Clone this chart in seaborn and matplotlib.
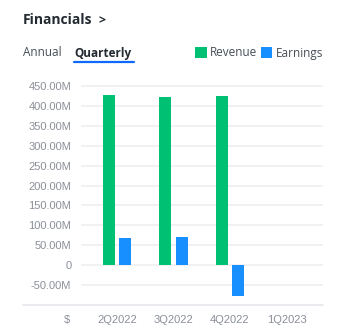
import numpy as np
import pandas as pd
import matplotlib
matplotlib.use("Agg")
import matplotlib.pyplot as plt
from matplotlib.lines import Line2D
from matplotlib.patches import Patch
import seaborn as sns

quarters = ["2Q2022", "3Q2022", "4Q2022", "1Q2023"]
revenue = [427.0, 423.0, 425.0, np.nan]      # millions
earnings = [68.6, 69.6, -78.0, np.nan]       # millions
series_names = ["Revenue", "Earnings"]
ytick_values = [-50, 0, 50, 100, 150, 200, 250, 300, 350, 400, 450]

GREEN = "#00c073"
BLUE = "#188fff"
GRID = "#f0f0f3"
TICK = "#8a8f98"
DARK = "#232a31"

df = pd.DataFrame({
    "quarter": quarters * 2,
    "value": revenue + earnings,
    "series": [series_names[0]] * 4 + [series_names[1]] * 4,
})

sns.set_theme(style="white")
plt.rcParams["font.family"] = ["Liberation Sans", "DejaVu Sans"]

fig = plt.figure(figsize=(3.41, 3.36), dpi=100)
ax = fig.add_axes([81 / 341, (336 - 305) / 336, 242 / 341, 220.9 / 336])

sns.barplot(data=df, x="quarter", y="value", hue="series", order=quarters,
            hue_order=series_names, palette=[GREEN, BLUE], width=0.6,
            gap=0.294, errorbar=None, ax=ax, legend=False, linewidth=0,
            saturation=1)

ax.set_ylim(-100, 455)
ax.set_xlim(-0.637, 3.646)
ax.set_yticks(ytick_values)
ax.set_yticklabels(["0" if v == 0 else f"{v:.2f}M" for v in ytick_values])
for v in ytick_values:
    ax.axhline(v, color=GRID, lw=1.3, zorder=0)
ax.plot([-0.24, 1], [-100, -100], transform=ax.get_yaxis_transform(),
        color="#e8e9ee", lw=1.3, clip_on=False, zorder=0)
for s in ax.spines.values():
    s.set_visible(False)
ax.set_xlabel("")
ax.set_ylabel("")
ax.tick_params(axis="y", length=0, pad=7, labelsize=8, labelcolor=TICK)
ax.tick_params(axis="x", length=0, pad=7, labelsize=8, labelcolor=TICK)

fig.text(67 / 341, 1 - 320 / 336, "$", ha="center", va="center", fontsize=8, color=TICK)

# header
fig.text(23 / 341, 1 - 20 / 336, "Financials", ha="left", va="center",
         fontsize=10, fontweight="bold", color=DARK, family=["Open Sans", "DejaVu Sans"])
fig.text(98 / 341, 1 - 20.5 / 336, ">", ha="left", va="center",
         fontsize=9, fontweight="bold", color=DARK, family=["Open Sans", "DejaVu Sans"])
fig.text(23 / 341, 1 - 53 / 336, "Annual", ha="left", va="center",
         fontsize=8.5, color="#464e56", family=["Open Sans", "DejaVu Sans"])
fig.text(74 / 341, 1 - 53 / 336, "Quarterly", ha="left", va="center",
         fontsize=8.5, fontweight="bold", color=DARK, family=["Open Sans", "DejaVu Sans"])
fig.add_artist(Line2D([74 / 341, 134 / 341], [1 - 62 / 336, 1 - 62 / 336],
                      color="#0f69ff", lw=1.6, transform=fig.transFigure))

handles = [Patch(facecolor=GREEN, edgecolor="none"), Patch(facecolor=BLUE, edgecolor="none")]
leg = fig.legend(handles, series_names, loc="center right",
                 bbox_to_anchor=(323 / 341, 1 - 53 / 336), ncol=2, frameon=False,
                 handlelength=0.95, handleheight=0.95, handletextpad=0.3,
                 columnspacing=0.3, borderaxespad=0, borderpad=0,
                 prop={"family": ["Open Sans", "DejaVu Sans"], "size": 8.5})
for t in leg.get_texts():
    t.set_color("#464e56")

fig.savefig("out.png", dpi=100, facecolor="white")
